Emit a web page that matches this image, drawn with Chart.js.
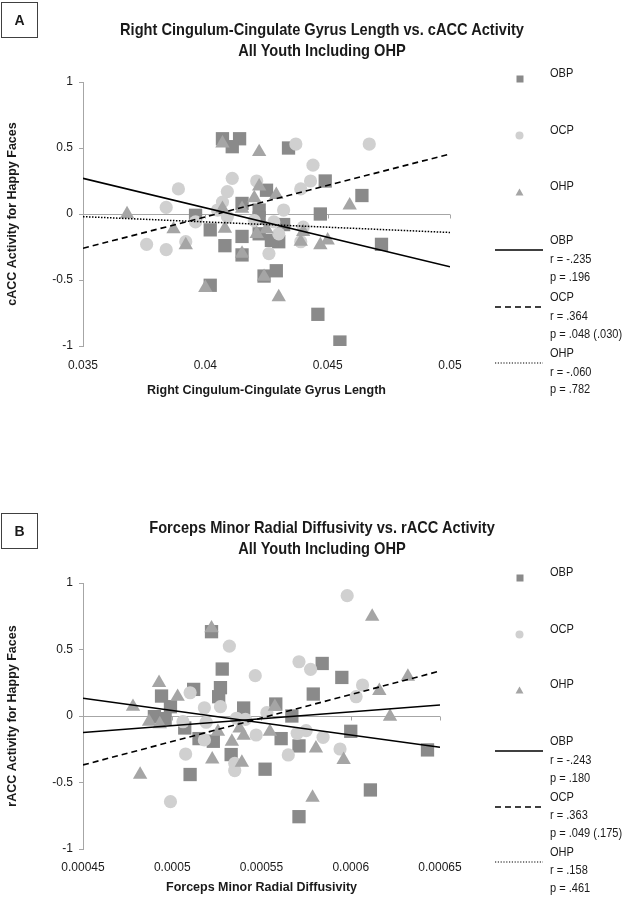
<!DOCTYPE html>
<html>
<head>
<meta charset="utf-8">
<script src="https://cdn.jsdelivr.net/npm/chart.js@4.4.0/dist/chart.umd.min.js"></script>
<style>
  body { margin: 0; background: #fff; }
  #wrap { position: relative; width: 631px; height: 900px; overflow: hidden;
          font-family: 'Liberation Sans Narrow', 'Arial Narrow', 'Liberation Sans', sans-serif; color: #1a1a1a; }
  canvas { position: absolute; left: 0; }
  .t { position: absolute; white-space: nowrap; font-size: 13px; line-height: 16px;
       transform: scaleX(0.85); transform-origin: left center; }
  .title { position: absolute; left: 0; width: 644px; text-align: center; font-weight: bold; font-size: 17px;
           line-height: 20px; white-space: nowrap; transform: scaleX(0.86); transform-origin: 322px center; }
  .box { position: absolute; left: 1px; width: 35px; height: 34px; border: 1px solid #404040;
         font-weight: bold; font-size: 14px; line-height: 34px; text-align: center; }
  .mk { position: absolute; }
</style>
</head>
<body>
<div id="wrap">
  <canvas id="chartA" width="631" height="450" style="top:0"></canvas>
  <canvas id="chartB" width="631" height="450" style="top:450px"></canvas>

  <div class="box" style="top:2px">A</div>
  <div class="title" style="top:20px">Right Cingulum-Cingulate Gyrus Length vs. cACC Activity</div>
  <div class="title" style="top:41px">All Youth Including OHP</div>

  <div class="box" style="top:513px">B</div>
  <div class="title" style="top:518px">Forceps Minor Radial Diffusivity vs. rACC Activity</div>
  <div class="title" style="top:539px">All Youth Including OHP</div>
</div>

<script>
// ---- Panel A data: [length, cACC activity]
const obpA = [[0.0407,0.57],[0.0414,0.57],[0.0411,0.51],[0.0434,0.50],[0.0449,0.25],[0.0464,0.14],
  [0.0447,0.0],[0.0472,-0.23],[0.0415,0.08],[0.0425,0.18],[0.0396,-0.01],[0.0402,-0.12],[0.0408,-0.24],
  [0.0415,-0.17],[0.0422,-0.15],[0.0430,-0.21],[0.0432,-0.08],[0.0415,-0.31],[0.0429,-0.43],[0.0402,-0.54],
  [0.0424,-0.47],[0.0446,-0.76],[0.0455,-0.97],[0.0422,0.03],[0.0422,-0.03],[0.0427,-0.20]];
const ocpA = [[0.0437,0.53],[0.0467,0.53],[0.0444,0.37],[0.0443,0.25],[0.0439,0.19],[0.0411,0.27],
  [0.0421,0.25],[0.0409,0.17],[0.0389,0.19],[0.0384,0.05],[0.0407,0.09],[0.0432,0.03],[0.0396,-0.06],
  [0.0376,-0.23],[0.0384,-0.27],[0.0392,-0.21],[0.0426,-0.30],[0.0439,-0.21],[0.0440,-0.10],[0.0428,-0.06],
  [0.0430,-0.15],[0.0409,-0.02],[0.0420,-0.05],[0.0405,0.03]];
const ohpA = [[0.0368,0.0],[0.0407,0.535],[0.0422,0.47],[0.0387,-0.115],[0.0392,-0.235],[0.0422,0.21],
  [0.0429,0.145],[0.0459,0.065],[0.0407,0.04],[0.0415,0.04],[0.0408,-0.11],[0.0421,-0.15],[0.0425,-0.115],
  [0.0439,-0.21],[0.0447,-0.235],[0.0450,-0.20],[0.0415,-0.30],[0.0400,-0.56],[0.0424,-0.475],[0.0430,-0.63],
  [0.0420,0.12],[0.0440,-0.135]];
const obpFitA = [[0.035,0.27],[0.05,-0.40]];
const ocpFitA = [[0.035,-0.26],[0.05,0.455]];
const ohpFitA = [[0.035,-0.02],[0.05,-0.14]];
const statsA = ['OBP','r = -.235','p = .196','OCP','r = .364','p = .048 (.030)','OHP','r = -.060','p = .782'];

// ---- Panel B data: [radial diffusivity, rACC activity]
const obpB = [[0.000522,0.634],[0.000528,0.353],[0.000527,0.213],[0.000512,0.20],[0.000494,0.15],
  [0.000499,0.07],[0.000490,-0.005],[0.000496,-0.02],[0.000507,-0.09],[0.000540,0.06],[0.000526,0.145],
  [0.000523,-0.19],[0.000515,-0.17],[0.000533,-0.29],[0.000510,-0.44],[0.000552,-0.40],[0.000558,0.09],
  [0.000584,0.395],[0.000595,0.29],[0.000579,0.165],[0.000567,0.0],[0.000600,-0.115],[0.000643,-0.255],
  [0.000561,-0.17],[0.000571,-0.225],[0.000611,-0.556],[0.000571,-0.757]];
const ocpB = [[0.000532,0.526],[0.0005465,0.303],[0.000510,0.175],[0.000518,0.062],[0.000527,0.07],
  [0.000506,-0.043],[0.000519,-0.047],[0.000518,-0.18],[0.0005075,-0.286],[0.000536,-0.017],[0.000541,-0.025],
  [0.000535,-0.356],[0.000535,-0.41],[0.000499,-0.644],[0.000553,0.025],[0.000547,-0.143],[0.000598,0.905],
  [0.000571,0.408],[0.0005775,0.351],[0.0006066,0.233],[0.000603,0.145],[0.000575,-0.11],[0.000570,-0.13],
  [0.0005845,-0.16],[0.000565,-0.293],[0.000594,-0.248]];
const ohpB = [[0.000522,0.66],[0.0004926,0.25],[0.000503,0.145],[0.000478,0.07],[0.000487,-0.043],
  [0.000493,-0.06],[0.0005256,-0.118],[0.0005377,-0.093],[0.000540,-0.148],[0.0005334,-0.193],[0.0005224,-0.326],
  [0.000539,-0.35],[0.000482,-0.44],[0.000612,0.747],[0.000632,0.296],[0.000616,0.19],[0.000622,-0.005],
  [0.0005575,0.07],[0.0005547,-0.118],[0.0005805,-0.243],[0.000596,-0.33],[0.0005786,-0.614]];
const obpFitB = [[0.00045,0.133],[0.00065,-0.235]];
const ocpFitB = [[0.00045,-0.368],[0.00065,0.338]];
const ohpFitB = [[0.00045,-0.125],[0.00065,0.083]];
const statsB = ['OBP','r = -.243','p = .180','OCP','r = .363','p = .049 (.175)','OHP','r = .158','p = .461'];

const axisCol = '#a6a6a6';
const textCol = '#1a1a1a';
const fontFam = "'Liberation Sans Narrow', 'Arial Narrow', 'Liberation Sans', sans-serif";
Chart.defaults.font.family = fontFam;
Chart.defaults.color = textCol;

const toXY = a => a.map(p => ({ x: p[0], y: p[1] }));
const fmt = v => String(parseFloat(Number(v).toFixed(6)));

// small tick marks on the horizontal axis drawn at y = 0
const zeroTicks = {
  id: 'zeroTicks',
  beforeDatasetsDraw(chart) {
    const { ctx, scales: { x, y } } = chart;
    const y0 = Math.round(y.getPixelForValue(0)) + 0.5;
    ctx.save();
    ctx.strokeStyle = axisCol;
    ctx.lineWidth = 1;
    x.ticks.forEach(t => {
      const px = Math.round(x.getPixelForValue(t.value)) + 0.5;
      ctx.beginPath(); ctx.moveTo(px, y0); ctx.lineTo(px, y0 + 4); ctx.stroke();
    });
    ctx.restore();
  }
};

function scatterSet(label, pts, style, r, col, order) {
  return { label, data: toXY(pts), pointStyle: style, pointRadius: r, pointHoverRadius: r,
           backgroundColor: col, borderColor: col, borderWidth: 0, order };
}
function fitSet(label, pts, dash, w) {
  return { type: 'line', label, data: toXY(pts), showLine: true, borderColor: '#000', borderWidth: w,
           borderDash: dash, pointRadius: 0, fill: false, order: 0 };
}

function makeChart(id, o) {
  new Chart(document.getElementById(id), {
    type: 'scatter',
    data: {
      datasets: [
        fitSet('OBP fit', o.fits[0], [], 1.6),
        fitSet('OCP fit', o.fits[1], [6, 4], 1.6),
        fitSet('OHP fit', o.fits[2], o.ohpDash, 1.5),
        scatterSet('OHP', o.ohp, 'triangle', 8.3, '#a5a5a5', 1),
        scatterSet('OCP', o.ocp, 'circle', 6.6, '#d0d0d0', 2),
        scatterSet('OBP', o.obp, 'rect', 9.4, '#8a8a8a', 3)
      ]
    },
    options: {
      responsive: false,
      animation: false,
      layout: { padding: { top: o.top, right: o.right, bottom: 0, left: 0 } },
      plugins: { legend: { display: false }, tooltip: { enabled: false } },
      scales: {
        x: {
          type: 'linear', min: o.xMin, max: o.xMax,
          ticks: { stepSize: o.xStep, padding: o.xLabPad, font: { size: 12 }, color: textCol, callback: v => fmt(v) },
          grid: { display: false, drawTicks: false },
          border: { display: false },
          title: { display: true, text: o.xTitle, color: textCol, font: { size: 12.5, weight: 'bold' },
                   padding: { top: 0, bottom: o.xTitlePad } },
          afterFit: s => { s.height = o.xHeight; }
        },
        y: {
          min: -1, max: 1,
          ticks: { stepSize: 0.5, padding: 6, font: { size: 12 }, color: textCol, callback: v => fmt(v) },
          grid: { color: c => (c.tick && c.tick.value === 0) ? axisCol : 'rgba(0,0,0,0)',
                  tickColor: axisCol, tickLength: 4, lineWidth: 1 },
          border: { color: axisCol },
          title: { display: true, text: o.yTitle, color: textCol, font: { size: 12.5, weight: 'bold' },
                   padding: { top: 5, bottom: 0 } },
          afterFit: s => { s.width = 83; }
        }
      }
    },
    plugins: [zeroTicks]
  });
}

makeChart('chartA', {
  obp: obpA, ocp: ocpA, ohp: ohpA, fits: [obpFitA, ocpFitA, ohpFitA], ohpDash: [1.5, 1.5],
  xMin: 0.035, xMax: 0.05, xStep: 0.005, top: 82, right: 181, xHeight: 104, xLabPad: 12, xTitlePad: 52,
  xTitle: 'Right Cingulum-Cingulate Gyrus Length', yTitle: 'cACC Activity for Happy Faces'
});
makeChart('chartB', {
  obp: obpB, ocp: ocpB, ohp: ohpB, fits: [obpFitB, ocpFitB, ohpFitB], ohpDash: [],
  xMin: 0.00045, xMax: 0.00065, xStep: 0.00005, top: 133, right: 191, xHeight: 51, xLabPad: 11, xTitlePad: 5,
  xTitle: 'Forceps Minor Radial Diffusivity', yTitle: 'rACC Activity for Happy Faces'
});

// ---- legends (HTML)
const wrap = document.getElementById('wrap');
function addText(txt, x, yc) {
  const d = document.createElement('div');
  d.className = 't'; d.textContent = txt;
  d.style.left = x + 'px'; d.style.top = (yc - 8) + 'px';
  wrap.appendChild(d);
}
function addSvg(x, y, w, h, inner) {
  const d = document.createElement('div');
  d.className = 'mk';
  d.style.left = x + 'px'; d.style.top = y + 'px';
  d.innerHTML = '<svg width="' + w + '" height="' + h + '">' + inner + '</svg>';
  wrap.appendChild(d);
}
function addLegend(markYs, rowYs, stats) {
  addSvg(516, markYs[0] - 4, 8, 8, '<rect x="0.5" y="0.5" width="7" height="7" fill="#8a8a8a"/>');
  addSvg(515, markYs[1] - 4, 9, 9, '<circle cx="4.5" cy="4.5" r="4" fill="#d0d0d0"/>');
  addSvg(515, markYs[2] - 4, 9, 8, '<polygon points="4.5,0.5 8.5,7.5 0.5,7.5" fill="#a5a5a5"/>');
  addText('OBP', 550, markYs[0]);
  addText('OCP', 550, markYs[1]);
  addText('OHP', 550, markYs[2]);
  const dashes = ['', '6,4', '1.2,1.6'];
  [0, 3, 6].forEach((row, i) => {
    const da = dashes[i] ? ' stroke-dasharray="' + dashes[i] + '"' : '';
    addSvg(495, rowYs[row] - 2, 48, 4,
      '<line x1="0" y1="2" x2="48" y2="2" stroke="#000" stroke-width="' + (i === 2 ? 1.2 : 1.5) + '"' + da + '/>');
  });
  stats.forEach((s, i) => addText(s, 550, rowYs[i]));
}
addLegend([73, 130, 186], [240, 259, 277, 297, 316, 334, 353, 372, 389], statsA);
addLegend([572, 629, 684], [741, 760, 778, 797, 815, 833, 852, 870, 888], statsB);
</script>
</body>
</html>
